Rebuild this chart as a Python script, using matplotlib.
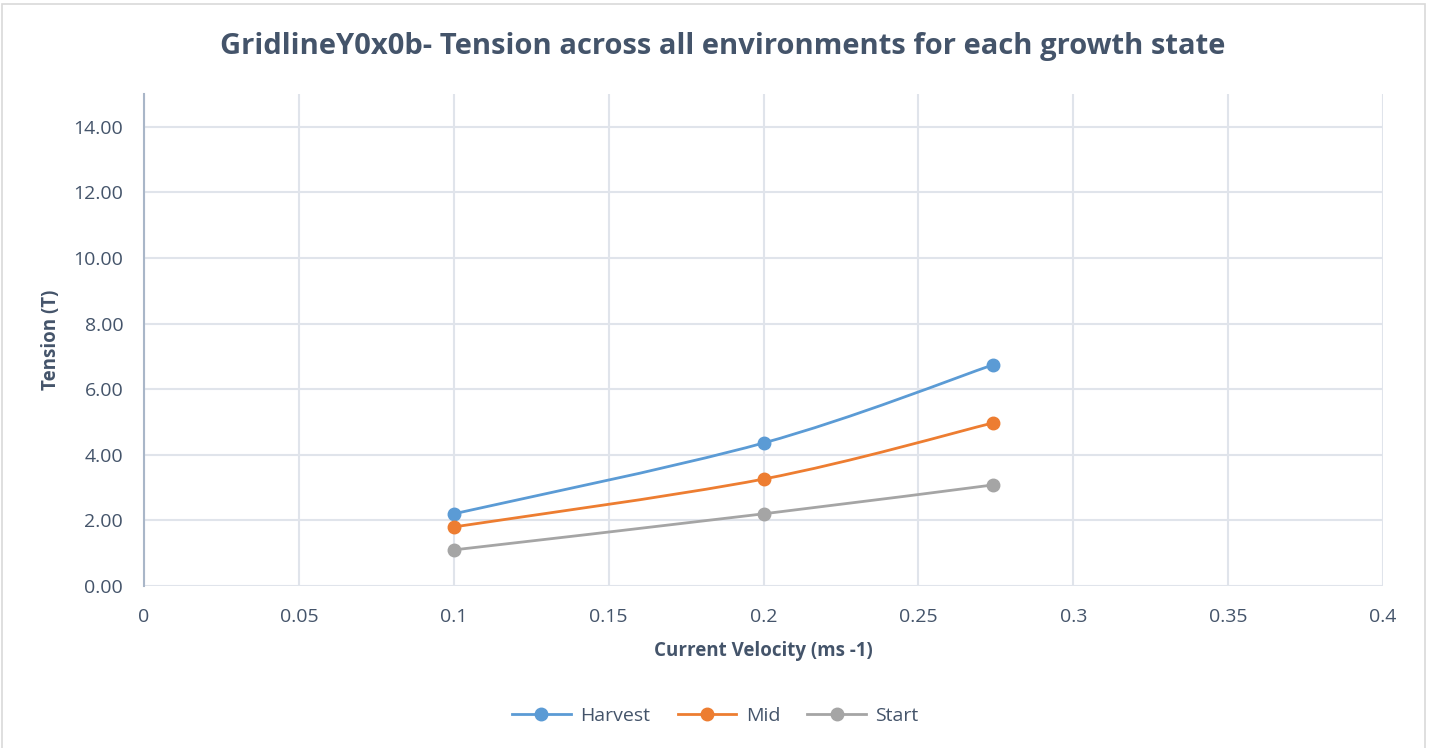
import numpy as np
import matplotlib.pyplot as plt
from matplotlib.path import Path
from matplotlib.patches import PathPatch, Rectangle
from matplotlib.lines import Line2D

plt.rcParams['font.family'] = ['Open Sans', 'DejaVu Sans']

velocity = [0.1, 0.2, 0.274]
harvest = [2.20, 4.36, 6.74]
mid = [1.80, 3.26, 4.97]
start = [1.10, 2.20, 3.08]

series = [('Harvest', harvest, '#5B9BD5'),
          ('Mid', mid, '#ED7D31'),
          ('Start', start, '#A5A5A5')]

text_col = '#44546A'
grid_col = '#E0E4EB'


def smooth_path(xs, ys):
    # Catmull-Rom style cubic Bezier through the points (like a smoothed line)
    pts = np.column_stack([xs, ys]).astype(float)
    n = len(pts)
    verts = [pts[0]]
    codes = [Path.MOVETO]
    for i in range(n - 1):
        p0 = pts[i - 1] if i > 0 else pts[i]
        p1 = pts[i]
        p2 = pts[i + 1]
        p3 = pts[i + 2] if i + 2 < n else pts[i + 1]
        c1 = p1 + (p2 - p0) / 6.0
        c2 = p2 - (p3 - p1) / 6.0
        verts += [c1, c2, p2]
        codes += [Path.CURVE4] * 3
    return Path(verts, codes)


fig = plt.figure(figsize=(14.31, 7.48), dpi=100)
ax = fig.add_axes([0.1006, 0.2166, 0.8659, 0.6577])

for name, vals, col in series:
    ax.add_patch(PathPatch(smooth_path(velocity, vals), facecolor='none',
                           edgecolor=col, lw=2, zorder=3))
    ax.plot(velocity, vals, 'o', color=col, ms=9, zorder=4)

ax.set_xlim(0, 0.4)
ax.set_ylim(0, 15)
ax.set_xticks(np.arange(0, 0.401, 0.05))
ax.set_xticklabels(['0', '0.05', '0.1', '0.15', '0.2', '0.25', '0.3', '0.35', '0.4'])
ax.set_yticks(np.arange(0, 15, 2))
ax.set_yticklabels([f'{v:.2f}' for v in np.arange(0, 15, 2)])
ax.tick_params(length=0, labelsize=14, colors=text_col)
ax.tick_params(axis='y', pad=15)
ax.tick_params(axis='x', pad=16)
ax.grid(True, color=grid_col, lw=1.5)
ax.set_axisbelow(True)
for s in ['top', 'right', 'bottom']:
    ax.spines[s].set_visible(False)
ax.spines['left'].set_color('#A9B6C8')
ax.spines['left'].set_linewidth(1.5)

ax.set_xlabel('Current Velocity (ms -1)', fontsize=13.5, fontweight='bold',
              color=text_col, labelpad=11)
ax.set_ylabel('Tension (T)', fontsize=13.5, fontweight='bold',
              color=text_col, labelpad=9)
fig.text(0.505, 0.938, 'GridlineY0x0b- Tension across all environments for each growth state',
         ha='center', va='center', fontsize=21, fontweight='bold', color=text_col)

handles = [Line2D([], [], color=c, lw=2, marker='o', ms=9) for _, _, c in series]
fig.legend(handles, [n for n, _, _ in series], loc='center', bbox_to_anchor=(0.5, 0.043),
           ncol=3, frameon=False, fontsize=14, labelcolor=text_col,
           handlelength=3.0, handletextpad=0.5, columnspacing=1.4)

fig.patches.append(Rectangle((0.0015, -0.01), 0.9945, 1.005, transform=fig.transFigure,
                             fill=False, edgecolor='#D9D9D9', lw=1.2))

fig.savefig('out.png', dpi=100)
